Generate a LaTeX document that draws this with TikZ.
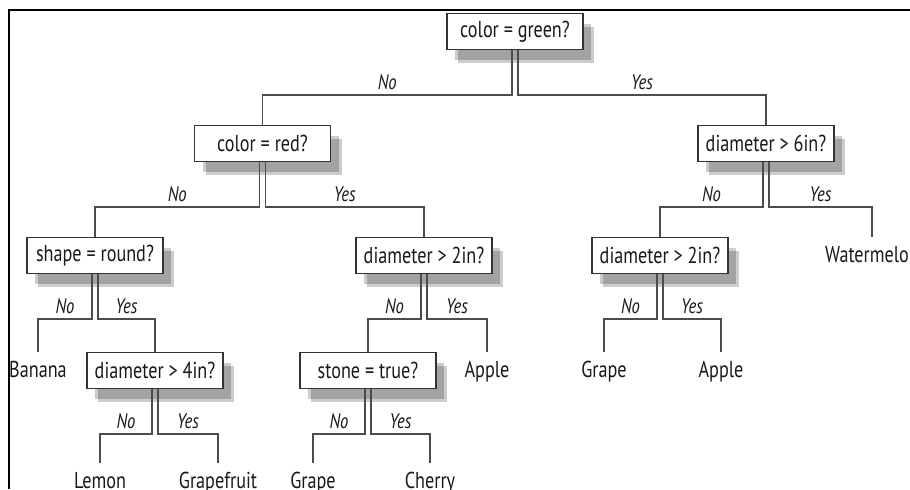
\documentclass[tikz,border=0pt]{standalone}
\usepackage{fontspec}
\setmainfont{PT Sans}[FakeStretch=0.79]
\usetikzlibrary{shadows}
\tikzset{
  qbox/.style={draw=black!80,line width=.7pt,fill=white,minimum width=68pt,minimum height=18pt,inner sep=2pt,
    font=\fontsize{11.5}{13}\selectfont,text=black!90,
    drop shadow={shadow xshift=4pt,shadow yshift=-5pt,fill=black,opacity=.2},
    drop shadow={shadow xshift=5.5pt,shadow yshift=-6.5pt,fill=black,opacity=.2}},
  leaf/.style={anchor=base,inner sep=0pt,outer sep=5pt,text height=7.5pt,font=\fontsize{11.5}{13}\selectfont,text=black!90},
  lbl/.style={above=1.5pt,inner sep=1pt,font=\fontsize{10.5}{12}\selectfont\itshape,text=black!90},
  edge/.style={draw=black!70,line width=.8pt}
}
\begin{document}
\begin{tikzpicture}[x=.5pt,y=-.5pt]
\useasboundingbox (0,0) rectangle (910,489);
\clip (0,0) rectangle (910,489);
% questions
\node[qbox] (root) at (515,31.5) {color = green?};
\node[qbox] (red) at (262.5,143.5) {color = red?};
\node[qbox] (d6) at (766,143.5) {diameter > 6in?};
\node[qbox] (round) at (95,255.5) {shape = round?};
\node[qbox] (d2a) at (424,255.5) {diameter > 2in?};
\node[qbox] (d2b) at (660,255.5) {diameter > 2in?};
\node[qbox] (d4) at (155,370.5) {diameter > 4in?};
\node[qbox] (stone) at (368,370.5) {stone = true?};
% answers
\node[leaf] (banana) at (38,377) {Banana};
\node[leaf] (apple1) at (487,377) {Apple};
\node[leaf] (melon) at (872,262) {Watermelon};
\node[leaf] (grape1) at (604,377) {Grape};
\node[leaf] (apple2) at (721,377) {Apple};
\node[leaf] (lemon) at (100,488) {Lemon};
\node[leaf] (grapefruit) at (218,488) {Grapefruit};
\node[leaf] (grape2) at (313,488) {Grape};
\node[leaf] (cherry) at (430,488) {Cherry};
% branches
\foreach \p/\c/\l/\d in {root/red/No/-1.5, root/d6/Yes/1.5, red/round/No/-1.5, red/d2a/Yes/1.5,
  d6/d2b/No/-1.5, d6/melon/Yes/1.5, round/banana/No/-1.5, round/d4/Yes/1.5,
  d2a/stone/No/-1.5, d2a/apple1/Yes/1.5, d2b/grape1/No/-1.5, d2b/apple2/Yes/1.5,
  d4/lemon/No/-1.5, d4/grapefruit/Yes/1.5, stone/grape2/No/-1.5, stone/cherry/Yes/1.5}
  {\draw[edge] ([xshift=\d pt]\p.south) -- ++(0,45) -| node[lbl,pos=.25] {\l} (\c.north);}
% frame
\draw[line width=1pt] (9,489) -- (9,10) -- (910,10);
\end{tikzpicture}
\end{document}
